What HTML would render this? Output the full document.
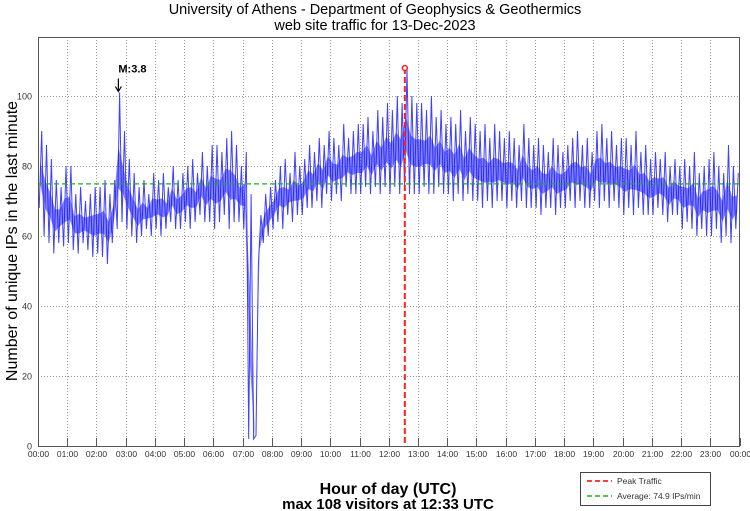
<!DOCTYPE html>
<html><head><meta charset="utf-8"><style>
body{margin:0;background:#fff;}
svg{display:block;font-family:"Liberation Sans",sans-serif;}
</style></head><body>
<svg id="chart" width="750" height="511">
<text x="375" y="14" text-anchor="middle" font-size="14.5">University of Athens - Department of Geophysics &amp; Geothermics</text>
<text x="375" y="30" text-anchor="middle" font-size="14.5">web site traffic for 13-Dec-2023</text>
<text transform="translate(17,241) rotate(-90)" text-anchor="middle" font-size="16">Number of unique IPs in the last minute</text>
<text x="388" y="494" text-anchor="middle" font-size="16" font-weight="bold">Hour of day (UTC)</text>
<text x="388" y="509" text-anchor="middle" font-size="15" font-weight="bold">max 108 visitors at 12:33 UTC</text>
<g id="grid"></g>
<g id="series"></g>
<g id="overlay"></g>
<rect x="38.5" y="37.5" width="701" height="409" fill="none" stroke="#555" stroke-width="1"/>
<g>
<rect x="580.5" y="472.5" width="130" height="33" fill="#fff" stroke="#444"/>
<line x1="587" y1="481" x2="612" y2="481" stroke="#ff0000" stroke-width="1.5" stroke-dasharray="5,3"/>
<text x="617" y="484" font-size="8.5" fill="#333">Peak Traffic</text>
<line x1="587" y1="496" x2="612" y2="496" stroke="#22aa22" stroke-width="1.5" stroke-dasharray="5,3"/>
<text x="617" y="499" font-size="8.5" fill="#333">Average: 74.9 IPs/min</text>
</g>
</svg>
<script>
// 10-minute bins: local highs and lows of unique IPs per minute
const hiVals = [
90,86,82,76,74,80, 80,72,74,70,72,74, 74,76,72,76,101,90, 82,78,74,76,72,78,
76,78,74,80,76,78, 80,82,78,84,80,86, 86,84,88,90,86,80, 84,72,3,66,72,74,
76,80,82,78,84,80, 82,86,84,88,86,90, 88,86,92,88,90,92, 92,94,90,96,94,98,
96,100,98,108,100,98, 98,96,100,94,96,92, 94,92,96,90,94,92, 90,92,88,92,90,88,
90,88,86,92,88,86, 88,86,84,88,86,84, 86,88,90,86,88,84, 90,92,88,90,86,88,
88,86,90,84,86,82, 84,82,84,80,82,80, 82,80,84,78,80,82, 84,80,78,86,80,78];
const loVals = [
68,60,58,55,58,57, 58,56,55,58,56,54, 55,54,52,58,62,64, 62,60,58,60,62,60,
62,60,62,64,62,62, 64,62,64,66,64,64, 62,64,66,62,64,64, 62,2,2,52,58,60,
62,64,62,66,64,66, 66,68,68,70,68,72, 70,72,70,74,72,72, 72,74,72,74,72,74,
72,74,72,74,72,72, 72,74,72,72,74,72, 72,70,72,70,72,70, 70,68,70,68,70,70,
68,70,68,70,68,68, 68,66,68,68,66,68, 68,70,68,70,68,68, 70,68,70,68,70,68,
66,68,66,68,66,66, 66,68,66,64,66,66, 62,64,62,60,62,60, 60,62,58,60,58,62];
const yTicks = [0,20,40,60,80,100];
const xTickLabels = ["00:00","01:00","02:00","03:00","04:00","05:00","06:00","07:00","08:00","09:00","10:00","11:00","12:00","13:00","14:00","15:00","16:00","17:00","18:00","19:00","20:00","21:00","22:00","23:00","00:00"];
const averageValue = [74.9];
const peakValue = [108];
const peakMinute = [753];
const quakeMinute = [165];
const quakeValue = [101];

const NS="http://www.w3.org/2000/svg";
const X0=38, X1=739.5, Y0=446, PXU=3.5;
function xs(min){return X0+min/1440*(X1-X0);}
function ys(v){return Y0-v*PXU;}
function mk(tag,attrs,parent){const e=document.createElementNS(NS,tag);for(const k in attrs)e.setAttribute(k,attrs[k]);parent.appendChild(e);return e;}

const grid=document.getElementById('grid');
yTicks.forEach(v=>{
  const y=ys(v)+0.5;
  if(v>0){const l=mk('line',{x1:X0,x2:X1,y1:y,y2:y,stroke:'#999','stroke-dasharray':'1,2'},grid);
  
  }
  const t=mk('text',{x:X0-6,y:y+3,'text-anchor':'end','font-size':'9',fill:'#333'},grid);
  t.textContent=v;
  
  
});
xTickLabels.forEach((lab,i)=>{
  const x=Math.round(xs(i*60))+0.5;
  if(i>0&&i<24){const l=mk('line',{x1:x,x2:x,y1:37,y2:Y0,stroke:'#999','stroke-dasharray':'1,2'},grid);
  
  }
  const tk=mk('line',{x1:x,x2:x,y1:Y0-8,y2:Y0,stroke:'#555'},grid);
  
  
  const t=mk('text',{x:x,y:457,'text-anchor':'middle','font-size':'8.5',fill:'#333'},grid);
  t.textContent=lab;
  
  
});

const series=document.getElementById('series');
let bandTop=[],bandBot=[];
for(let i=0;i<hiVals.length;i++){
  bandTop.push(xs(i*10+5).toFixed(1)+','+ys(hiVals[i]*0.6+loVals[i]*0.4).toFixed(1));
  bandBot.unshift(xs(i*10+5).toFixed(1)+','+ys(loVals[i]*0.7+hiVals[i]*0.3).toFixed(1));
}
const band=mk('polygon',{points:bandTop.concat(bandBot).join(' '),fill:'#2020ff','fill-opacity':'0.55',stroke:'none'},series);


let pts=[];
for(let i=0;i<hiVals.length;i++){
  pts.push(xs(i*10+2.5).toFixed(1)+','+ys(loVals[i]).toFixed(1));
  pts.push(xs(i*10+7.5).toFixed(1)+','+ys(hiVals[i]).toFixed(1));
}
const pl=mk('polyline',{points:pts.join(' '),fill:'none',stroke:'#1010ff','stroke-width':'1','stroke-opacity':'0.8'},series);



const ov=document.getElementById('overlay');
const avg=mk('line',{x1:X0,x2:X1,y1:ys(averageValue[0]),y2:ys(averageValue[0]),stroke:'#22aa22','stroke-width':'1.2','stroke-dasharray':'5,3'},ov);


const px=xs(peakMinute[0]);
const pk=mk('line',{x1:px,x2:px,y1:ys(peakValue[0]),y2:Y0,stroke:'#ff2020','stroke-width':'2','stroke-dasharray':'6,3'},ov);


const pc=mk('circle',{cx:px,cy:ys(peakValue[0]),r:2.5,fill:'#fff',stroke:'#ff2020','stroke-width':'1.5'},ov);


const qx=xs(quakeMinute[0]), qy=ys(quakeValue[0]);
const qa=mk('path',{d:`M${qx},${qy-14}V${qy-2}M${qx-3},${qy-6}L${qx},${qy-1}L${qx+3},${qy-6}`,stroke:'#000','stroke-width':'1.2',fill:'none'},ov);


const qt=mk('text',{x:qx,y:qy-20,'font-size':'11','font-weight':'bold'},ov);
qt.textContent='M:3.8';


</script>
</body></html>
